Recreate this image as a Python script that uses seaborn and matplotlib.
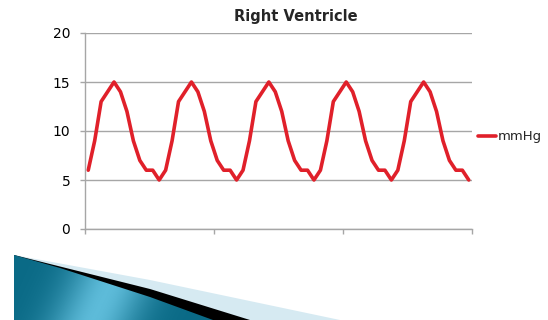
import numpy as np
import pandas as pd
import matplotlib
matplotlib.use("Agg")
import matplotlib.pyplot as plt
from matplotlib.patches import Polygon
import seaborn as sns

# pressure samples (60 points, 5 beats)
pressure = [6, 9, 13, 14,
            15, 14, 12, 9, 7, 6, 6, 5, 6, 9, 13, 14,
            15, 14, 12, 9, 7, 6, 6, 5, 6, 9, 13, 14,
            15, 14, 12, 9, 7, 6, 6, 5, 6, 9, 13, 14,
            15, 14, 12, 9, 7, 6, 6, 5, 6, 9, 13, 14,
            15, 14, 12, 9, 7, 6, 6, 5]
y_ticks = [0, 5, 10, 15, 20]
title = "Right Ventricle"
series_name = "mmHg"

df = pd.DataFrame({"sample": range(len(pressure)), "value": pressure})

sns.set_style("white")
plt.rcParams["font.family"] = ["DejaVu Sans"]

W, H = 548, 320
fig = plt.figure(figsize=(W / 100, H / 100), dpi=100)
ax = fig.add_axes([85 / W, 1 - 229 / H, 387 / W, 196 / H])

sns.lineplot(data=df, x="sample", y="value", ax=ax, color="#E0202A",
             linewidth=2.6, label=series_name)

ax.set_xlim(-0.5, len(pressure) - 0.5)
ax.set_ylim(y_ticks[0], y_ticks[-1])
ax.set_yticks(y_ticks)
ax.set_xticks([-0.5, 19.5, 39.5, 59.5])
ax.set_xticklabels([])
ax.yaxis.grid(True, color="#A6A6A6", linewidth=1)
ax.set_axisbelow(True)
ax.set_xlabel("")
ax.set_ylabel("")
for side in ["top", "right"]:
    ax.spines[side].set_visible(False)
for side in ["left", "bottom"]:
    ax.spines[side].set_color("#A6A6A6")
    ax.spines[side].set_linewidth(1)
ax.tick_params(axis="both", direction="out", length=3.6, width=1, color="#A6A6A6",
               labelsize=10, labelcolor="black", left=True, bottom=True)
ax.tick_params(axis="y", pad=7)

fig.text(296 / W, 1 - 17 / H, title, fontsize=10.5, fontweight="bold",
         ha="center", va="center")
ax.legend(loc="center left", bbox_to_anchor=(1.003, 0.47), frameon=False,
          handlelength=1.3, handletextpad=0.2, fontsize=9.5, borderaxespad=0)

# slide decoration in the bottom-left corner
deco = fig.add_axes([0, 0, 1, 1], zorder=-1)
deco.axis("off")

deco.add_patch(Polygon([(14, 255), (150, 280), (340, 320), (14, 320)],
                       facecolor="#D6EAF2", edgecolor="none", zorder=1))
deco.add_patch(Polygon([(14, 255), (150, 289), (250, 320), (14, 320)],
                       facecolor="black", edgecolor="none", zorder=2))
teal = Polygon([(14, 255), (60, 268), (150, 297), (213, 320), (14, 320)],
               facecolor="none", edgecolor="none")
deco.add_patch(teal)
# streaky gradient inside the teal wedge: dark at both ends, light band near x~100
gx, gy = np.meshgrid(np.linspace(0, 1, 200), np.linspace(0, 1, 60))
t = gx + gy * 0.15
shade = np.exp(-((t - 0.55) / 0.22) ** 2)
cmap = matplotlib.colors.LinearSegmentedColormap.from_list(
    "teal", ["#0A6A86", "#5DBBD9"])
img = deco.imshow(shade, cmap=cmap, extent=(14, 213, 320, 255),
                  aspect="auto", interpolation="bilinear", zorder=3)
img.set_clip_path(teal)
deco.set_xlim(0, W)
deco.set_ylim(H, 0)

fig.savefig("out.png", dpi=100)
